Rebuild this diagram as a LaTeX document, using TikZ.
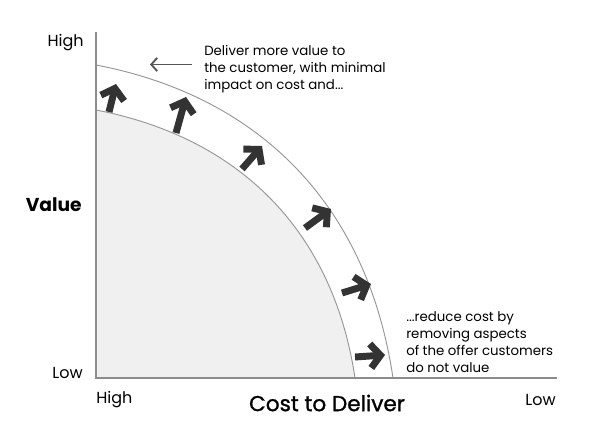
\documentclass[tikz,border=0pt]{standalone}
\usepackage{fontspec}
\setmainfont{Poppins}
\newfontfamily\medfont{Poppins}[FakeBold=1.2]
\usepackage{tikz}
\usetikzlibrary{positioning,arrows.meta}
\definecolor{axisgray}{RGB}{140,140,140}
\definecolor{curvegray}{RGB}{150,150,150}
\definecolor{fillgray}{RGB}{240,240,240}
\definecolor{pushdark}{RGB}{51,51,51}
\definecolor{hintgray}{RGB}{85,85,85}

\begin{document}
\begin{tikzpicture}[x=0.75pt,y=0.75pt]
\tikzstyle{every node}=[font=\fontsize{10}{12.75}\selectfont,inner sep=0pt]
\tikzstyle{scale label}=[font=\fontsize{12}{14}\selectfont]
\tikzstyle{axis}=[draw=axisgray,line width=1.5pt]
\tikzstyle{frontier}=[draw=curvegray,line width=0.7pt]
\tikzstyle{push}=[draw=pushdark,line width=5.2pt,-{Straight Barb[length=7.5pt,width=18pt]}]
\tikzstyle{hint}=[draw=hintgray,line width=1.4pt,-{Straight Barb[length=4.5pt,width=10pt]}]
\useasboundingbox (-96,-61) rectangle (504,378);
% the corner and the ends of the axes
\coordinate (O) at (0,0);
\coordinate (ytop) at (0,346);
\coordinate (xend) at (461,0);
% the inner frontier, filled
\coordinate (in0) at (0,268);
\coordinate (in1) at (259,0);
\fill[fillgray] (O) -- (in0) .. controls (141,241) and (236.6,149.5) .. (in1) -- cycle;
\draw[frontier] (in0) .. controls (141,241) and (236.6,149.5) .. (in1);
% the outer frontier
\coordinate (out0) at (0,313);
\coordinate (out1) at (297,0);
\draw[frontier] (out0) .. controls (162,282) and (271,175) .. (out1);
\draw[axis] (ytop) -- (O) -- (xend);
% the push outwards
\foreach \i/\tx/\ty/\hx/\hy in {1/13/266/20/294,2/80/245/90/281,3/146/209/166/232,4/209/150/235/169,5/246/85/275/94,6/259/21/289/23}{
  \coordinate (tail\i) at (\tx,\ty);
  \coordinate (tip\i) at (\hx,\hy);
  \draw[push] (tail\i) -- (tip\i);
}
% labels of the axes
\node[anchor=east,scale label] (vhigh) at (-12,335) {High};
\node[anchor=east,scale label] (vlow) at (-13,5) {Low};
\node[anchor=east,font=\fontsize{14}{16}\selectfont\bfseries] (value) at (-14,173) {Value};
\node[anchor=west,scale label] (chigh) at (0,-22) {High};
\node[anchor=east,scale label] (clow) at (460,-22) {Low};
\node[font=\fontsize{16.2}{18}\selectfont\medfont] (cost) at (231,-25) {Cost to Deliver};
% the two notes
\node[anchor=west,align=left] (deliver) at (108,309) {Deliver more value to\\the customer, with minimal\\impact on cost and...};
\coordinate (hintend) at (54,313.5);
\coordinate (hintstart) at (96,313.5);
\draw[hint] (hintstart) -- (hintend);
\node[anchor=west,align=left] (reduce) at (310,36) {...reduce cost by\\removing aspects\\of the offer customers\\do not value};
\end{tikzpicture}
\end{document}
